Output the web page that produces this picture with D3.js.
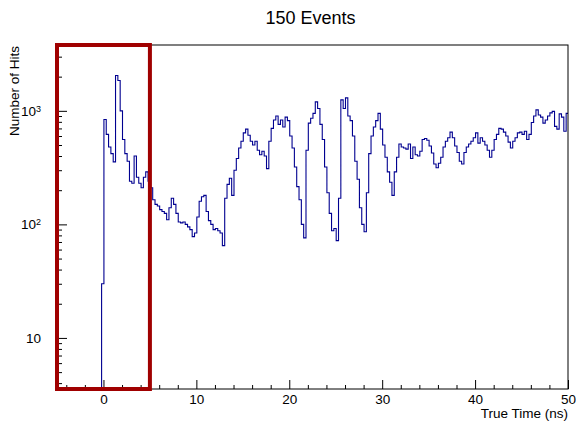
<!doctype html>
<html lang="en">
<head>
	<meta charset="UTF-8">
	<title>150 Events</title>
	<style type="text/css">
	body{ margin: 0; background: #fff; }
	svg text{ font-family: 'Liberation Sans', Arial, sans-serif; fill: #000; }
	</style>
	<script type="text/javascript" src="https://cdn.jsdelivr.net/npm/d3@7/dist/d3.min.js"></script>
</head>
<body>
	<script type="text/javascript">
		// histogram: 0.25 ns bins starting at -0.2 ns
		var binStart = -0.2;
		var binWidth = 0.25;
		var hits = [
			30, 840, 620, 480, 420, 355, 2050, 1850, 1000, 560,
			420, 360, 240, 230, 400, 260, 230, 210, 260, 290,
			240, 210, 165, 150, 145, 135, 130, 125, 110, 140,
			170, 150, 125, 105, 103, 105, 100, 95, 90, 78,
			84, 116, 160, 175, 180, 130, 108, 100, 90, 92,
			88, 84, 65, 170, 225, 255, 180, 300, 380, 470,
			540, 640, 690, 610, 540, 500, 540, 450, 410, 440,
			400, 310, 540, 700, 830, 900, 760, 830, 720, 880,
			820, 600, 470, 320, 215, 165, 100, 76, 450, 780,
			860, 950, 1200, 1050, 760, 560, 320, 190, 125, 88,
			92, 72, 170, 1250, 1050, 1300, 900, 820, 600, 360,
			250, 140, 100, 86, 190, 420, 600, 720, 820, 950,
			690, 500, 390, 290, 235, 180, 290, 390, 510, 480,
			470, 460, 510, 380, 480, 410, 400, 440, 560, 570,
			550, 490, 425, 340, 315, 345, 390, 480, 540, 580,
			650, 580, 490, 430, 360, 340, 430, 480, 510, 540,
			580, 640, 520, 580, 540, 500, 450, 390, 450, 560,
			620, 700, 690, 650, 600, 530, 470, 540, 580, 640,
			650, 620, 660, 560, 620, 790, 900, 1020, 920, 880,
			780, 830, 900, 960, 990, 730, 690, 940, 880, 660,
			950
		];
		var xTicks = [0, 10, 20, 30, 40, 50];
		var yTicks = [10, 100, 1000];
		var yTickLabels = ['10', '10|2', '10|3'];
		var title = '150 Events';
		var xTitle = 'True Time (ns)';
		var yTitle = 'Number of Hits';
		var boxRange = [-5, 5];

		var w = 576, h = 421;
		var fL = 57, fR = 568, fT = 45, fB = 389;

		var svg = d3.select('body').append('svg')
			.attr('width', w).attr('height', h);

		var x = d3.scaleLinear().domain([-5, 50]).range([fL, fR]);
		var y = d3.scaleLog().domain([3.55, 3800]).range([fB, fT]);

		// clip for the histogram
		svg.append('clipPath').attr('id', 'frame')
			.append('rect').attr('x', fL).attr('y', fT)
			.attr('width', fR - fL).attr('height', fB - fT);

		// histogram step line
		var pts = [[x(binStart), fB]];
		hits.forEach(function(d, i){
			var x0 = binStart + i*binWidth;
			pts.push([x(x0), y(d)]);
			pts.push([x(x0 + binWidth), y(d)]);
		});
		svg.append('path')
			.attr('clip-path', 'url(#frame)')
			.attr('d', d3.line()(pts))
			.attr('fill', 'none')
			.attr('stroke', '#000090')
			.attr('stroke-width', 1.1);

		// frame
		svg.append('rect')
			.attr('x', fL).attr('y', fT)
			.attr('width', fR - fL).attr('height', fB - fT)
			.attr('fill', 'none').attr('stroke', '#000').attr('stroke-width', 1);

		// x axis, ticks pointing inside
		var xMinor = d3.range(-4, 50, 2).filter(function(d){ return d % 10 !== 0; });
		svg.append('g').attr('transform', 'translate(0,' + fB + ')')
			.call(d3.axisBottom(x).tickValues(xMinor).tickSize(-4).tickFormat(''))
			.call(function(g){ g.select('.domain').remove(); });
		svg.append('g').attr('transform', 'translate(0,' + fB + ')')
			.call(d3.axisBottom(x).tickValues(xTicks).tickSize(-9).tickPadding(5))
			.call(function(g){
				g.select('.domain').remove();
				g.selectAll('text').attr('font-size', 13.5).attr('font-family', null);
			});

		// y axis, log ticks pointing inside
		var yMinor = [];
		[1, 10, 100, 1000].forEach(function(dec){
			for(var k=2; k<10; k++){
				var v = k*dec;
				if(v > 3.55 && v < 3800) yMinor.push(v);
			}
		});
		svg.append('g').attr('transform', 'translate(' + fL + ',0)')
			.call(d3.axisLeft(y).tickValues(yMinor).tickSize(-5).tickFormat(''))
			.call(function(g){ g.select('.domain').remove(); });
		var yAxis = svg.append('g').attr('transform', 'translate(' + fL + ',0)')
			.call(d3.axisLeft(y).tickValues(yTicks).tickSize(-10).tickFormat(''))
			.call(function(g){ g.select('.domain').remove(); });
		yAxis.selectAll('.tick').append('text')
			.attr('x', -16).attr('dy', '0.32em')
			.attr('text-anchor', 'end').attr('font-size', 13.5)
			.each(function(d, i){
				var parts = yTickLabels[i].split('|');
				var t = d3.select(this);
				t.append('tspan').text(parts[0]);
				if(parts[1]){
					t.append('tspan').attr('dy', '-0.45em').attr('font-size', 9).text(parts[1]);
				}
			});

		// red highlight box
		svg.append('rect')
			.attr('x', x(boxRange[0])).attr('y', fT)
			.attr('width', x(boxRange[1]) - x(boxRange[0]))
			.attr('height', fB - fT)
			.attr('fill', 'none')
			.attr('stroke', '#a00000')
			.attr('stroke-width', 4);

		// titles
		svg.append('text')
			.attr('x', (fL + fR)/2 - 2).attr('y', 24)
			.attr('text-anchor', 'middle').attr('font-size', 18)
			.text(title);
		svg.append('text')
			.attr('x', fR).attr('y', 418)
			.attr('text-anchor', 'end').attr('font-size', 13.5)
			.text(xTitle);
		svg.append('text')
			.attr('transform', 'translate(19,' + (fT + 1) + ') rotate(-90)')
			.attr('text-anchor', 'end').attr('font-size', 13.5)
			.text(yTitle);
	</script>
</body>
</html>
